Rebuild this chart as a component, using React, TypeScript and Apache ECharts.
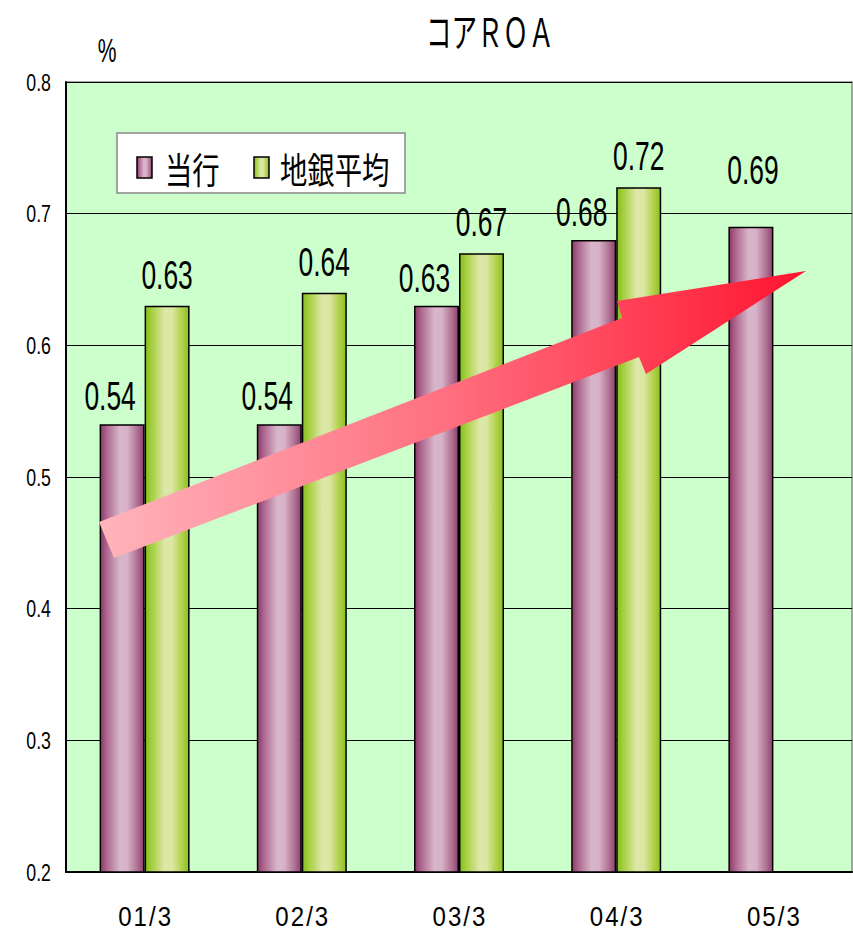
import React, { useEffect, useRef } from "react";
import * as echarts from "echarts";

const categories = ["01/3", "02/3", "03/3", "04/3", "05/3"];
const ownBank = [0.54, 0.54, 0.63, 0.68, 0.69];
const regionalAvg: (number | null)[] = [0.63, 0.64, 0.67, 0.72, null];
const seriesNames = ["当行", "地銀平均"];
const yTickValues = [0.2, 0.3, 0.4, 0.5, 0.6, 0.7, 0.8];
const titleText = "コアＲＯＡ";
const unitText = "%";

const LAT = "'Liberation Sans', Arial, sans-serif";
const JP = "'Noto Sans CJK JP', sans-serif";
const BAR_W = 45;

function pinkGrad() {
  return new echarts.graphic.LinearGradient(0, 0, 1, 0, [
    { offset: 0, color: "#8A3A66" },
    { offset: 0.15, color: "#AE6890" },
    { offset: 0.45, color: "#D8B6CA" },
    { offset: 0.62, color: "#D6B2C8" },
    { offset: 0.85, color: "#B07292" },
    { offset: 1, color: "#8E4070" },
  ]);
}
function greenGrad() {
  return new echarts.graphic.LinearGradient(0, 0, 1, 0, [
    { offset: 0, color: "#86BE1E" },
    { offset: 0.15, color: "#A6D040" },
    { offset: 0.45, color: "#DDE7A8" },
    { offset: 0.62, color: "#DBE6A2" },
    { offset: 0.85, color: "#AED046" },
    { offset: 1, color: "#8CC026" },
  ]);
}

export default function App() {
  const ref = useRef<HTMLDivElement>(null);
  useEffect(() => {
    if (!ref.current) return;
    const chart = echarts.init(ref.current, null, { renderer: "svg" });
    chart.setOption({
      animation: false,
      grid: {
        left: 66,
        right: 1,
        top: 82,
        bottom: 61,
        show: true,
        backgroundColor: "#CCFFCC",
        borderColor: "#888",
        borderWidth: 1.5,
      },
      xAxis: {
        type: "category",
        data: categories,
        axisLine: { lineStyle: { color: "#000", width: 2 } },
        axisTick: { inside: true, length: 8, lineStyle: { color: "#555" } },
        axisLabel: { show: false },
      },
      yAxis: {
        type: "value",
        min: yTickValues[0],
        max: yTickValues[yTickValues.length - 1],
        interval: 0.1,
        axisLine: { show: true, lineStyle: { color: "#000", width: 2 } },
        axisTick: { show: false },
        splitLine: { lineStyle: { color: "#000", width: 1 } },
        axisLabel: { show: false },
      },
      series: [
        {
          name: seriesNames[0],
          type: "bar",
          data: ownBank,
          barWidth: BAR_W,
          barGap: "0%",
          itemStyle: { color: pinkGrad(), borderColor: "#000", borderWidth: 1.5 },
        },
        {
          name: seriesNames[1],
          type: "bar",
          data: regionalAvg,
          barWidth: BAR_W,
          itemStyle: { color: greenGrad(), borderColor: "#000", borderWidth: 1.5 },
        },
      ],
    });

    const els: any[] = [];
    const xPix = (i: number) => chart.convertToPixel({ xAxisIndex: 0 }, i) as number;
    const yPix = (v: number) => chart.convertToPixel({ yAxisIndex: 0 }, v) as number;

    // y tick labels
    yTickValues.forEach((v) => {
      els.push({
        type: "text",
        x: 51,
        y: yPix(v),
        scaleX: 0.74,
        style: {
          text: v.toFixed(1),
          fontSize: 24,
          fontFamily: LAT,
          fill: "#000",
          textAlign: "right",
          textVerticalAlign: "middle",
        },
      });
    });
    // x category labels
    categories.forEach((c, i) => {
      els.push({
        type: "text",
        x: xPix(i),
        y: 916,
        scaleX: 0.86,
        style: {
          text: c.split("").join("\u200A"),
          fontSize: 28,
          fontFamily: LAT,
          fill: "#000",
          textAlign: "center",
          textVerticalAlign: "middle",
        },
      });
    });
    // value labels
    const addLabel = (v: number | null, cx: number, lift: number) => {
      if (v == null) return;
      els.push({
        type: "text",
        x: cx,
        y: yPix(v) - lift,
        scaleX: 0.66,
        z: 50,
        style: {
          text: v.toFixed(2),
          fontSize: 40,
          fontFamily: LAT,
          fill: "#000",
          textAlign: "center",
          textVerticalAlign: "middle",
        },
      });
    };
    ownBank.forEach((v, i) => {
      const paired = regionalAvg[i] != null;
      addLabel(v, xPix(i) - BAR_W / 2 - (paired ? 12 : -2), paired ? 28 : 57);
    });
    regionalAvg.forEach((v, i) => addLabel(v, xPix(i) + BAR_W / 2, 31));

    // title and unit
    els.push({
      type: "text",
      x: 490,
      y: 30,
      scaleX: 0.64,
      style: { text: titleText, fontSize: 40, fontFamily: JP, fill: "#000", textAlign: "center", textVerticalAlign: "middle" },
    });
    els.push({
      type: "text",
      x: 107,
      y: 50,
      scaleX: 0.62,
      style: { text: unitText, fontSize: 34, fontFamily: LAT, fill: "#000", textAlign: "center", textVerticalAlign: "middle" },
    });

    // legend
    els.push({
      type: "rect",
      shape: { x: 117, y: 133, width: 288, height: 60 },
      style: { fill: "#fff", stroke: "#888", lineWidth: 1.5 },
      z: 60,
    });
    els.push({
      type: "rect",
      shape: { x: 137, y: 157, width: 15, height: 21 },
      style: { fill: pinkGrad(), stroke: "#000", lineWidth: 1.5 },
      z: 61,
    });
    els.push({
      type: "rect",
      shape: { x: 254, y: 157, width: 15, height: 21 },
      style: { fill: greenGrad(), stroke: "#000", lineWidth: 1.5 },
      z: 61,
    });
    els.push({
      type: "text",
      x: 165,
      y: 168,
      scaleX: 0.76,
      z: 61,
      style: { text: seriesNames[0], fontSize: 36, fontFamily: JP, fill: "#000", textAlign: "left", textVerticalAlign: "middle" },
    });
    els.push({
      type: "text",
      x: 280,
      y: 168,
      scaleX: 0.76,
      z: 61,
      style: { text: seriesNames[1], fontSize: 36, fontFamily: JP, fill: "#000", textAlign: "left", textVerticalAlign: "middle" },
    });

    // arrow
    els.push({
      type: "polygon",
      z: 100,
      shape: {
        points: [
          [99, 522],
          [622, 318],
          [617, 301],
          [806, 271],
          [646, 374],
          [639, 357],
          [114, 558],
        ],
      },
      style: {
        fill: new echarts.graphic.LinearGradient(0, 0, 1, 0, [
          { offset: 0, color: "#FFB4BC" },
          { offset: 0.5, color: "#FF6E7E" },
          { offset: 1, color: "#FF1430" },
        ]),
      },
    });

    chart.setOption({ graphic: els });
    return () => chart.dispose();
  }, []);
  return (
    <div
      ref={ref}
      style={{ position: "absolute", left: 0, top: 0, width: 853, height: 933 }}
    />
  );
}
